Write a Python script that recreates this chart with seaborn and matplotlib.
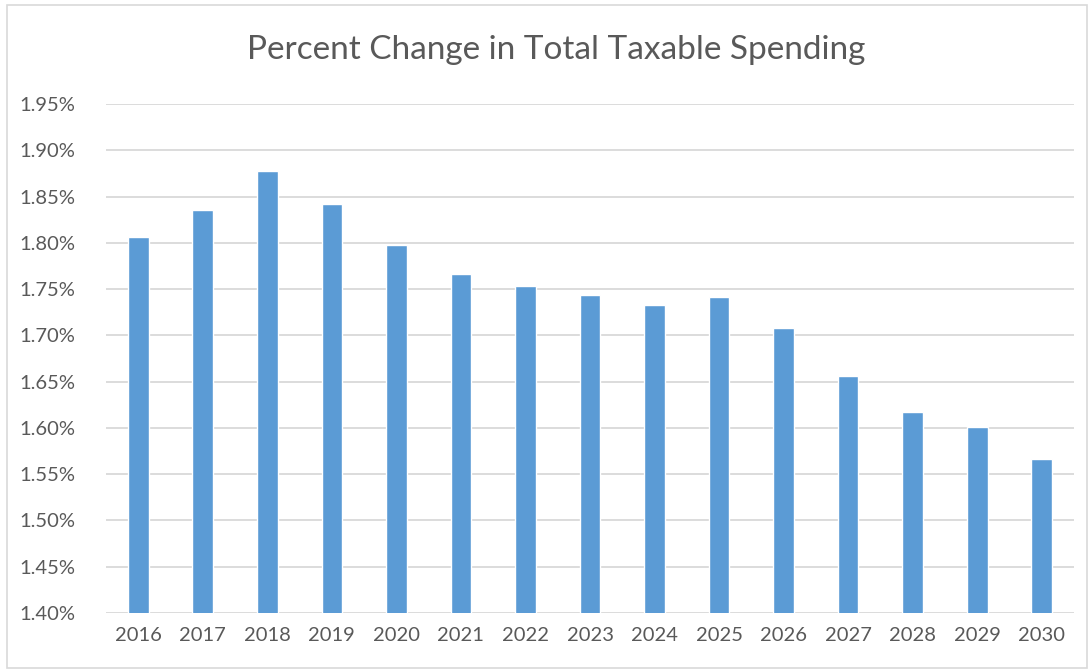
import pandas as pd
import matplotlib.pyplot as plt
import seaborn as sns
from matplotlib.patches import Rectangle
from matplotlib.ticker import FuncFormatter

years = ['2016', '2017', '2018', '2019', '2020', '2021', '2022', '2023',
         '2024', '2025', '2026', '2027', '2028', '2029', '2030']
pct_change = [1.806, 1.836, 1.878, 1.842, 1.798, 1.766, 1.753, 1.744,
              1.733, 1.741, 1.708, 1.656, 1.617, 1.601, 1.566]

df = pd.DataFrame({'year': years, 'pct': pct_change})

sns.set_style('white')
plt.rcParams['font.family'] = ['Lato', 'DejaVu Sans']

fig = plt.figure(figsize=(10.91, 6.70), dpi=100)
ax = fig.add_axes([106 / 1091, 1 - 613 / 670, 968 / 1091, 509 / 670])

sns.barplot(data=df, x='year', y='pct', color='#5b9bd5', width=0.32,
            saturation=1, ax=ax, zorder=3)

ax.set_ylim(1.40, 1.95)
ax.set_yticks([1.40 + 0.05 * i for i in range(12)])
ax.yaxis.set_major_formatter(FuncFormatter(lambda v, p: f'{v:.2f}%'))
ax.grid(axis='y', color='#d9d9d9', linewidth=1.3, zorder=0)
ax.set_axisbelow(True)
for s in ax.spines.values():
    s.set_visible(False)
ax.tick_params(axis='both', length=0, labelsize=14.5, colors='#595959')
ax.tick_params(axis='y', pad=22)
ax.tick_params(axis='x', pad=10)
ax.set_xlabel('')
ax.set_ylabel('')

fig.text(556 / 1091, 1 - 50 / 670, 'Percent Change in Total Taxable Spending',
         ha='center', va='center', fontsize=24, color='#595959')

fig.patches.append(Rectangle((7 / 1091, 2 / 670), 1080 / 1091, 663 / 670,
                             transform=fig.transFigure, fill=False,
                             edgecolor='#d9d9d9', linewidth=1.2))

plt.savefig('out.png', dpi=100)
